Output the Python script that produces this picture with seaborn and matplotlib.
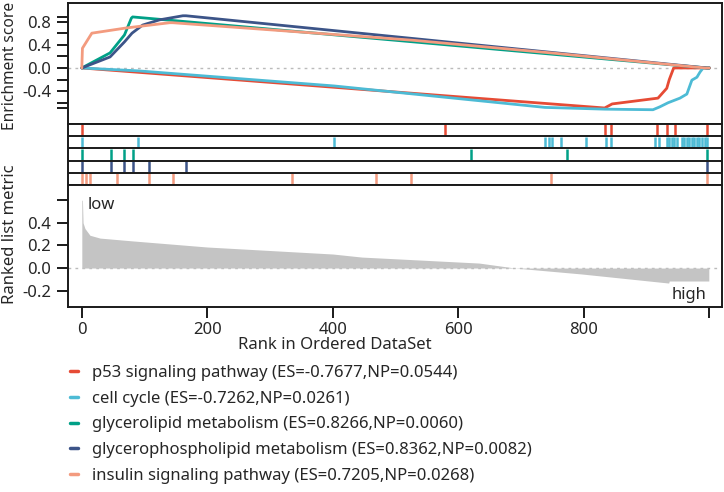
import matplotlib
matplotlib.use("Agg")
import matplotlib.pyplot as plt
from matplotlib.lines import Line2D
import seaborn as sns
import pandas as pd

# ---------------- data ----------------
set_names = ["p53 signaling pathway", "cell cycle", "glycerolipid metabolism",
             "glycerophospholipid metabolism", "insulin signaling pathway"]
set_es = ["-0.7677", "-0.7262", "0.8266", "0.8362", "0.7205"]
set_np = ["0.0544", "0.0261", "0.0060", "0.0082", "0.0268"]
set_colors = ["#E64B35", "#4DBBD5", "#00A087", "#3C5488", "#F39B7F"]

# running enrichment score curves (rank, ES)
p53_rank = [0, 833, 845, 918, 932, 936, 943, 1000]
p53_es = [0.0, -0.69, -0.62, -0.52, -0.35, -0.20, 0.0, 0.0]

cc_rank = [0, 90, 402, 738, 833, 910, 921, 934, 953, 964, 972, 980, 985, 990, 1000]
cc_es = [0.0, -0.05, -0.31, -0.68, -0.71, -0.72, -0.67, -0.60, -0.52,
         -0.45, -0.21, -0.16, -0.07, 0.0, 0.0]

gl_rank = [0, 45, 68, 79, 81, 996, 1000]
gl_es = [0.0, 0.26, 0.57, 0.86, 0.88, 0.0, 0.0]

gp_rank = [0, 45, 68, 80, 97, 124, 161, 166, 996, 1000]
gp_es = [0.0, 0.19, 0.45, 0.60, 0.74, 0.83, 0.90, 0.90, 0.0, 0.0]

ins_rank = [0, 1, 16, 71, 140, 145, 335, 525, 747, 993, 1000]
ins_es = [0.0, 0.34, 0.60, 0.69, 0.78, 0.78, 0.63, 0.48, 0.26, 0.0, 0.0]

# hit positions (gene ranks) per set
p53_hits = [0, 578, 833, 843, 916, 932, 945, 996]
cc_hits = [0, 90, 402, 738, 744, 749, 764, 803, 835, 843, 913, 919, 932, 936, 940,
           944, 948, 956, 960, 964, 968, 972, 975, 980, 984, 988, 993, 996]
gl_hits = [0, 46, 68, 81, 620, 773, 996]
gp_hits = [0, 46, 68, 81, 107, 166, 996]
ins_hits = [0, 6, 13, 56, 107, 145, 335, 469, 525, 747, 996]

# ranked list metric outline (rank, value)
metric_rank = [0, 1, 2, 5, 13, 29, 81, 200, 400, 446, 633, 690, 797, 935, 936, 999]
metric_val = [0.60, 0.60, 0.40, 0.35, 0.29, 0.265, 0.24, 0.186, 0.124, 0.097, 0.044,
              0.0, -0.053, -0.133, -0.115, -0.115]

x_ticks = [0, 200, 400, 600, 800, 1000]
x_tick_labels = ["0", "200", "400", "600", "800", ""]

# ---------------- style ----------------
sns.set_theme(style="white")
plt.rcParams["font.family"] = ["Noto Sans", "DejaVu Sans"]
txt_color = "#262626"
FS = 12

fig = plt.figure(figsize=(7.24, 4.92), dpi=100)
L, W = 68 / 724, 654 / 724
ax_es = fig.add_axes([L, 1 - 124 / 492, W, 121 / 492])
ax_rug = fig.add_axes([L, 1 - 185 / 492, W, 61 / 492])
ax_rm = fig.add_axes([L, 1 - 307 / 492, W, 122 / 492])
xlim = (-22, 1020)

for a in (ax_es, ax_rug, ax_rm):
    for s in a.spines.values():
        s.set_color("#1a1a1a")
        s.set_linewidth(1.4)
    a.set_xlim(*xlim)

# ---- ES panel ----
rows = []
for name, rk, es in zip(set_names,
                        [p53_rank, cc_rank, gl_rank, gp_rank, ins_rank],
                        [p53_es, cc_es, gl_es, gp_es, ins_es]):
    for r, e in zip(rk, es):
        rows.append({"set": name, "rank": r, "es": e})
df = pd.DataFrame(rows)
ax_es.axhline(0, color="#bbbbbb", lw=1, ls=(0, (2, 3)), zorder=0)
sns.lineplot(data=df, x="rank", y="es", hue="set", hue_order=set_names,
             palette=set_colors, sort=False, estimator=None, linewidth=2,
             legend=False, ax=ax_es)
ax_es.set_ylim(-0.966, 1.12)
ax_es.set_xlabel("")
ax_es.set_ylabel("")
ax_es.set_xticks([])
ax_es.set_yticks([-0.4, 0.0, 0.4, 0.8])
ax_es.set_yticklabels(["-0.4", "0.0", "0.4", "0.8"])
ax_es.set_yticks([-0.69, -0.6, -0.2, 0.2, 0.6, 0.88], minor=True)
ax_es.tick_params(axis="y", which="both", direction="out", left=True, length=8,
                  width=1.4, color="#1a1a1a", labelsize=FS, labelcolor=txt_color, pad=4)

# ---- rug panel ----
hits = [p53_hits, cc_hits, gl_hits, gp_hits, ins_hits]
for i, (h, c) in enumerate(zip(hits, set_colors)):
    y0 = 4 - i
    ax_rug.vlines(h, y0 + 0.04, y0 + 0.96, color=c, lw=1.8)
for y in range(1, 5):
    ax_rug.axhline(y, color="#1a1a1a", lw=1.4)
ax_rug.set_ylim(0, 5)
ax_rug.set_xticks([])
ax_rug.set_yticks([])

# ---- ranked list metric panel ----
ax_rm.fill_between(metric_rank, 0, metric_val, color="#c4c4c4", lw=0)
ax_rm.axhline(0, color="#bbbbbb", lw=1, ls=(0, (2, 3)), zorder=0)
ax_rm.set_ylim(-0.345, 0.735)
ax_rm.set_yticks([-0.2, 0.0, 0.2, 0.4])
ax_rm.set_yticklabels(["-0.2", "0.0", "0.2", "0.4"])
ax_rm.set_yticks([0.6], minor=True)
ax_rm.tick_params(axis="y", which="both", direction="out", left=True, length=8,
                  width=1.4, color="#1a1a1a", labelsize=FS, labelcolor=txt_color, pad=4)
ax_rm.set_xticks(x_ticks)
ax_rm.set_xticklabels(x_tick_labels)
ax_rm.tick_params(axis="x", direction="out", bottom=True, length=8, width=1.4,
                  color="#1a1a1a", labelsize=FS, labelcolor=txt_color, pad=3)
ax_rm.set_xlabel("Rank in Ordered DataSet", fontsize=FS, color=txt_color)
ax_rm.xaxis.set_label_coords((335 - 68) / 654, -0.245)
ax_rm.text(9, 0.63, "low", fontsize=FS, color=txt_color, va="top", ha="left")
ax_rm.text(996, -0.31, "high", fontsize=FS, color=txt_color, va="bottom", ha="right")

# y labels
fig.text(10 / 724, 1 - 66 / 492, "Enrichment score", rotation=90, va="center",
         ha="center", fontsize=11.2, color=txt_color)
fig.text(10 / 724, 1 - 234 / 492, "Ranked list metric", rotation=90, va="center",
         ha="center", fontsize=FS, color=txt_color)

# legend
handles = [Line2D([0], [0], color=c, lw=2.5) for c in set_colors]
labels = [f"{n} (ES={e},NP={p})" for n, e, p in zip(set_names, set_es, set_np)]
fig.legend(handles, labels, loc="upper left", bbox_to_anchor=(70 / 724, 1 - 365 / 492),
           frameon=False, fontsize=FS, handlelength=0.5, handletextpad=0.85,
           labelspacing=0.58, borderaxespad=0, borderpad=0, labelcolor=txt_color)

fig.savefig("out.png", dpi=100)
